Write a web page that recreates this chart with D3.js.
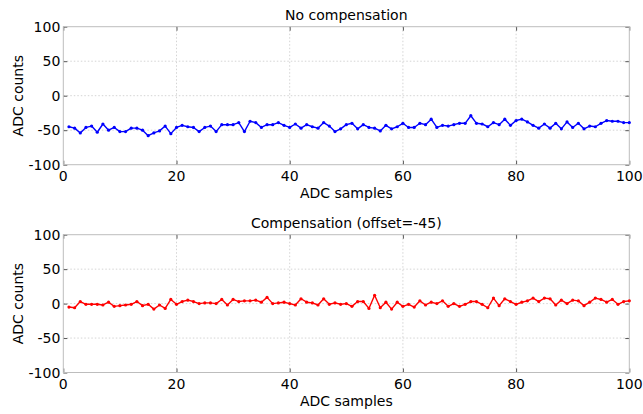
<!DOCTYPE html>
<html>
<head>
<meta charset="utf-8">
<script src="https://cdn.jsdelivr.net/npm/d3@7"></script>
<style>
  body { margin: 0; background: #fff; }
  text { font-family: "DejaVu Sans", sans-serif; fill: #000; }
</style>
</head>
<body>
<div id="chart"></div>
<script>
const width = 643,
   height = 414,
   plotLeft = 63.3,
   plotRight = 629.3,
   panels = [{top: 26.7, bottom: 164.7}, {top: 234.7, bottom: 372.5}];

// sample index 1..100
const samples = d3.range(1, 101);

const rawCounts = [
  -45, -47, -54, -46, -44, -53, -41, -50, -46, -52,
  -52, -47, -47, -50, -58, -54, -51, -44, -55, -46,
  -43, -45, -46, -52, -46, -44, -52, -42, -42, -42,
  -39, -52, -37, -39, -46, -42, -42, -39, -43, -46,
  -41, -47, -42, -45, -47, -39, -44, -52, -48, -42,
  -40, -48, -42, -46, -47, -51, -43, -48, -45, -40,
  -46, -46, -40, -42, -34, -46, -43, -44, -42, -40,
  -40, -29, -40, -41, -45, -39, -42, -34, -43, -36,
  -34, -38, -43, -47, -41, -47, -40, -48, -38, -46,
  -40, -48, -44, -45, -40, -36, -37, -37, -39, -39
];

const compensatedCounts = [
  -5, -6, 3, -1, -1, -1, -2, 2, -4, -3,
  -2, -1, 3, -3, -1, -8, -2, -7, 6, -1,
  3, 5, 3, 0, 1, 1, 0, 6, -2, 6,
  3, 4, 4, 5, 2, 9, 0, 1, 2, 0,
  -2, 7, 2, 1, -2, 7, -1, 1, -1, 0,
  -4, 3, 3, -7, 12, -6, 2, -8, 2, -4,
  -1, -5, 4, -2, 2, 0, 4, -4, 0, -4,
  -1, 3, 3, -1, -6, 8, -3, 7, 3, -1,
  2, 4, 8, 3, 8, 7, -2, 5, 0, 5,
  4, -3, 2, 8, 6, 2, 6, -1, 3, 4
];

const titles = ['No compensation', 'Compensation (offset=-45)'];
const colors = ['#0000ff', '#ff0000'];
const series = [rawCounts, compensatedCounts];

const xTicks = [0, 20, 40, 60, 80, 100];
const yTicks = [-100, -50, 0, 50, 100];

const svg = d3.select('#chart')
   .append('svg')
   .attr('width', width)
   .attr('height', height);

const xScale = d3.scaleLinear()
   .domain([0, 100])
   .range([plotLeft, plotRight]);

panels.forEach((p, k) => {
   const yScale = d3.scaleLinear()
      .domain([-100, 100])
      .range([p.bottom, p.top]);

   const g = svg.append('g');

   // dotted grid
   g.selectAll('.vgrid')
      .data(xTicks.slice(1, -1))
      .join('line')
      .attr('x1', d => xScale(d)).attr('x2', d => xScale(d))
      .attr('y1', p.top).attr('y2', p.bottom)
      .attr('stroke', '#d4d4d4')
      .attr('stroke-dasharray', '1.5,2');

   g.selectAll('.hgrid')
      .data(yTicks.slice(1, -1))
      .join('line')
      .attr('x1', plotLeft).attr('x2', plotRight)
      .attr('y1', d => yScale(d)).attr('y2', d => yScale(d))
      .attr('stroke', '#d4d4d4')
      .attr('stroke-dasharray', '1.5,2');

   // inside ticks on all four sides
   const tickLen = 4;
   [[d3.axisBottom(xScale), p.bottom, 0], [d3.axisTop(xScale), p.top, 0]].forEach(([ax, y], i) => {
      g.append('g')
         .attr('transform', `translate(0, ${y})`)
         .call(ax.tickValues(xTicks).tickSizeInner(i === 0 ? -tickLen : -tickLen).tickSizeOuter(0).tickFormat(''))
         .call(a => a.select('.domain').remove())
         .selectAll('line').attr('stroke', '#555');
   });
   [[d3.axisLeft(yScale), plotLeft], [d3.axisRight(yScale), plotRight]].forEach(([ax, x]) => {
      g.append('g')
         .attr('transform', `translate(${x}, 0)`)
         .call(ax.tickValues(yTicks).tickSizeInner(-tickLen).tickSizeOuter(0).tickFormat(''))
         .call(a => a.select('.domain').remove())
         .selectAll('line').attr('stroke', '#555');
   });

   // frame
   g.append('rect')
      .attr('x', plotLeft).attr('y', p.top)
      .attr('width', plotRight - plotLeft).attr('height', p.bottom - p.top)
      .attr('fill', 'none')
      .attr('stroke', '#bdbdbd');

   // tick labels
   g.selectAll('.xlab')
      .data(xTicks)
      .join('text')
      .attr('x', d => xScale(d))
      .attr('y', p.bottom + 16.5)
      .attr('text-anchor', 'middle')
      .attr('font-size', 14)
      .text(d => d);

   g.selectAll('.ylab')
      .data(yTicks)
      .join('text')
      .attr('x', plotLeft - 3)
      .attr('y', d => yScale(d) + 5)
      .attr('text-anchor', 'end')
      .attr('font-size', 14)
      .text(d => d);

   // titles and axis labels
   g.append('text')
      .attr('x', (plotLeft + plotRight) / 2)
      .attr('y', p.top - 7)
      .attr('text-anchor', 'middle')
      .attr('font-size', 14)
      .text(titles[k]);

   g.append('text')
      .attr('x', (plotLeft + plotRight) / 2)
      .attr('y', p.bottom + 33)
      .attr('text-anchor', 'middle')
      .attr('font-size', 14)
      .text('ADC samples');

   g.append('text')
      .attr('transform', `translate(23, ${(p.top + p.bottom) / 2}) rotate(-90)`)
      .attr('text-anchor', 'middle')
      .attr('font-size', 14)
      .text('ADC counts');

   // data line + dot markers
   const line = d3.line()
      .x((d, i) => xScale(samples[i]))
      .y(d => yScale(d));

   g.append('path')
      .datum(series[k])
      .attr('d', line)
      .attr('fill', 'none')
      .attr('stroke', colors[k])
      .attr('stroke-width', 1.4)
      .attr('stroke-linejoin', 'round');

   g.selectAll('.dot')
      .data(series[k])
      .join('circle')
      .attr('cx', (d, i) => xScale(samples[i]))
      .attr('cy', d => yScale(d))
      .attr('r', 1.6)
      .attr('fill', colors[k]);
});
</script>
</body>
</html>
